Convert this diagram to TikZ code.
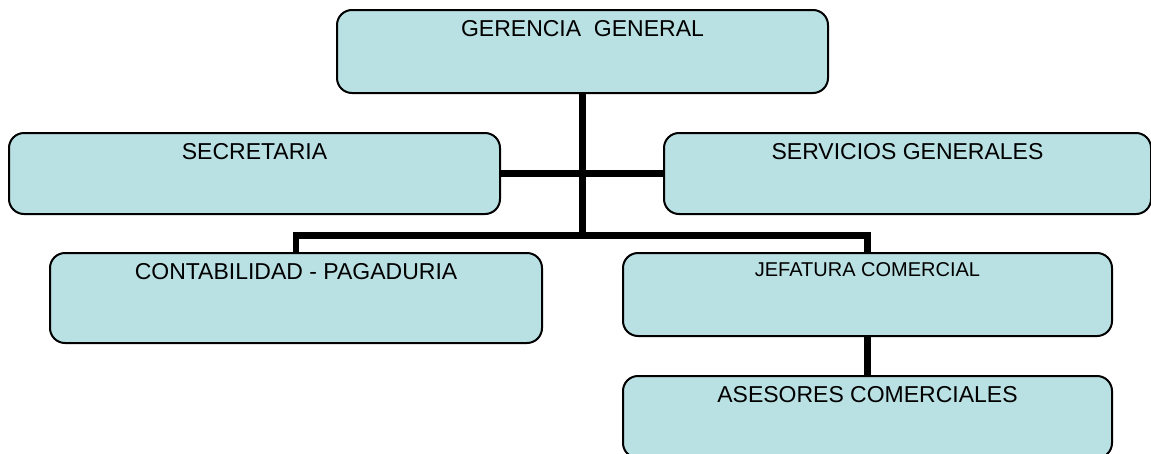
\documentclass[tikz,border=0pt]{standalone}
\usepackage{fontspec}
\setmainfont{Liberation Sans}
\definecolor{celeste}{RGB}{185,224,227}
\begin{document}
\begin{tikzpicture}[x=1pt, y=-1pt,
    caja/.style={draw, line width=2pt, fill=celeste, rounded corners=15pt,
      anchor=north west, inner sep=0pt},
    rotulo/.style={anchor=base, yshift=-27pt, font=\fontsize{23}{27}\selectfont},
    linea/.style={line width=6.5pt}]
    \useasboundingbox (0,0) rectangle (1151,453);

    % --- Gerencia ---
    \node[caja, minimum width=491pt, minimum height=83pt,
      label={[rotulo]north:GERENCIA\ \ GENERAL}] (gerencia) at (336,9) {};

    % --- Staff ---
    \node[caja, minimum width=491pt, minimum height=81pt,
      label={[rotulo]north:SECRETARIA}] (secretaria) at (8,132) {};
    \node[caja, minimum width=487pt, minimum height=81pt,
      label={[rotulo]north:SERVICIOS GENERALES}] (servicios) at (663,132) {};

    % --- Areas ---
    \node[caja, minimum width=492pt, minimum height=90pt,
      label={[rotulo]north:CONTABILIDAD - PAGADURIA}] (contab) at (49,252) {};
    \node[caja, minimum width=489pt, minimum height=83pt,
      label={[rotulo, yshift=3pt, font=\fontsize{20}{24}\selectfont]north:JEFATURA COMERCIAL}] (jefatura) at (622,252) {};
    \node[caja, minimum width=489pt, minimum height=82pt,
      label={[rotulo]north:ASESORES COMERCIALES}] (asesores) at (622,375) {};

    % --- Lineas ---
    \coordinate (ramal) at (gerencia.south |- 0,235.5);
    \draw[linea] (gerencia.south) -- (ramal);
    \draw[linea] (secretaria.east) -- (servicios.west);
    \draw[linea] (contab.north) |- (ramal) -| (jefatura.north);
    \draw[linea] (jefatura.south) -- (asesores.north);
\end{tikzpicture}
\end{document}
